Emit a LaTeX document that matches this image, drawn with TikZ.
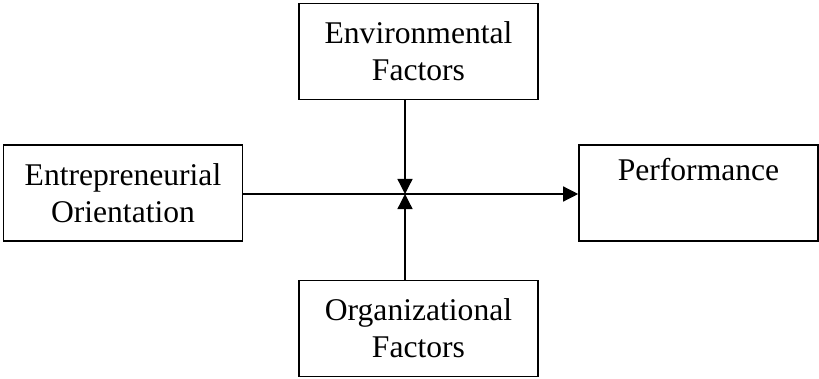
\documentclass[tikz,border=0pt]{standalone}
\usepackage{fontspec}
\setmainfont{Liberation Serif}
\usetikzlibrary{arrows.meta}
\tikzset{
  factorbox/.style={draw, line width=1.6pt, minimum width=239pt, minimum height=96pt,
    inner sep=0pt, align=center, font=\fontsize{31.6}{37}\selectfont},
  link/.style={line width=1.3pt},
  linkarrow/.style={link, -{Triangle[length=15pt,width=15pt]}}
}
\begin{document}
\begin{tikzpicture}[x=1pt,y=1pt]
\useasboundingbox (0,0) rectangle (819,378);
\node[factorbox] (env) at (418.5,326.5) {Environmental\\Factors};
\node[factorbox] (eo) at (123,185) {Entrepreneurial\\Orientation};
\node[factorbox] (perf) at (698.5,185) {Performance\\\strut};
\node[factorbox] (org) at (418.5,49.5) {Organizational\\Factors};
\coordinate (j) at (405,184);
\draw[linkarrow] (eo.east |- j) -- (perf.west |- j);
\draw[linkarrow] (env.south -| j) -- (j);
\draw[linkarrow] (org.north -| j) -- (j);
\end{tikzpicture}
\end{document}
